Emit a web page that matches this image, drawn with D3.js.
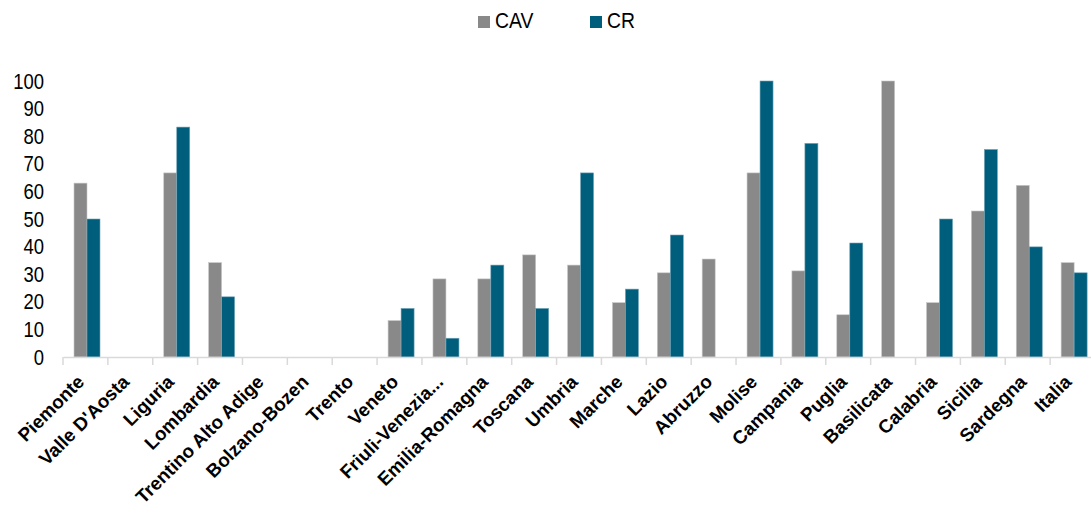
<!DOCTYPE html>
<html><head><meta charset="utf-8">
<script src="https://cdn.jsdelivr.net/npm/d3@7/dist/d3.min.js"></script>
<style>body{margin:0;background:#fff}svg{display:block}</style>
</head><body>
<svg id="c" width="1091" height="513"></svg>
<script>
const categories = ["Piemonte","Valle D'Aosta","Liguria","Lombardia","Trentino Alto Adige","Bolzano-Bozen","Trento","Veneto","Friuli-Venezia...","Emilia-Romagna","Toscana","Umbria","Marche","Lazio","Abruzzo","Molise","Campania","Puglia","Basilicata","Calabria","Sicilia","Sardegna","Italia"];
const seriesNames = ["CAV","CR"];
const cav = [63,0,66.7,34.2,0,0,0,13.2,28.3,28.3,37,33.3,19.7,30.5,35.5,66.7,31.2,15.3,100,19.7,52.9,62.2,34.2];
const cr  = [50,0,83.3,21.8,0,0,0,17.6,6.8,33.3,17.6,66.7,24.6,44.2,0,100,77.4,41.3,0,50,75.2,39.9,30.5];
const yTicks = [0,10,20,30,40,50,60,70,80,90,100];
const colors = {CAV:"#898989", CR:"#005E7D"};

const svg = d3.select("#c");
const x0 = d3.scaleBand().domain(categories).range([63, 1095]).padding(0);
const x1 = d3.scaleBand().domain(seriesNames).range([11, 37]).padding(0);
const y = d3.scaleLinear().domain([0,100]).range([357, 81]);
const values = {CAV: cav, CR: cr};

// bars
const g = svg.append("g");
categories.forEach((c, i) => {
  seriesNames.forEach(s => {
    const v = values[s][i];
    if (v <= 0) return;
    g.append("rect")
      .attr("x", x0(c) + x1(s))
      .attr("y", y(v))
      .attr("width", x1.bandwidth())
      .attr("height", y(0) - y(v))
      .attr("fill", colors[s])
      .attr("stroke", s === "CR" ? "#6fa3b8" : "#c8c8c8")
      .attr("stroke-width", 0.6);
  });
});

// x axis
const xAxis = d3.axisBottom(x0).tickSize(0).tickFormat("");
const xa = svg.append("g").attr("transform", "translate(0,357)").call(xAxis);
xa.select(".domain").attr("stroke", "#d9d9d9").attr("stroke-width", 1.5);
const bounds = categories.map(c => x0(c)).concat([x0.range()[1]]);
svg.append("g").selectAll("line").data(bounds).join("line")
  .attr("x1", d => d).attr("x2", d => d)
  .attr("y1", 357).attr("y2", 365)
  .attr("stroke", "#d9d9d9").attr("stroke-width", 1.5);

// x labels
svg.append("g").selectAll("text").data(categories).join("text")
  .attr("transform", d => `translate(${x0(d) + x0.bandwidth()/2},383) rotate(-45)`)
  .attr("text-anchor", "end")
  .attr("font-family", "'Liberation Sans', Arial, sans-serif")
  .attr("font-weight", "bold")
  .attr("font-size", 18.8)
  .attr("fill", "#000")
  .text(d => d);

// y axis labels
const yAxis = d3.axisLeft(y).tickValues(yTicks).tickSize(0).tickPadding(0);
const ya = svg.append("g").attr("transform", "translate(44,0)").call(yAxis);
ya.select(".domain").remove();
ya.selectAll("text")
  .attr("font-family", "'Liberation Sans Narrow', 'Arial Narrow', 'Liberation Sans', Arial, sans-serif")
  .attr("font-size", 22)
  .attr("fill", "#000");
ya.selectAll(".tick").each(function(){
  const t = d3.select(this);
  const m = /translate\(([^,]+),([^)]+)\)/.exec(t.attr("transform"));
  t.select("text").attr("x", 0);
  t.attr("transform", `translate(0,${m[2]}) scale(0.84,1)`);
});

// legend
const legend = [{name:"CAV", x:478}, {name:"CR", x:590}];
const lg = svg.append("g").selectAll("g").data(legend).join("g")
  .attr("transform", d => `translate(${d.x},16)`);
lg.append("rect").attr("width", 12).attr("height", 12).attr("fill", d => colors[d.name]);
lg.append("text").attr("x", 17).attr("y", 12)
  .attr("font-family", "'Liberation Sans Narrow', 'Arial Narrow', 'Liberation Sans', Arial, sans-serif")
  .attr("font-size", 22).attr("fill", "#000")
  .attr("transform", "translate(17,0) scale(0.88,1) translate(-17,0)")
  .text(d => d.name);
</script>
</body></html>
